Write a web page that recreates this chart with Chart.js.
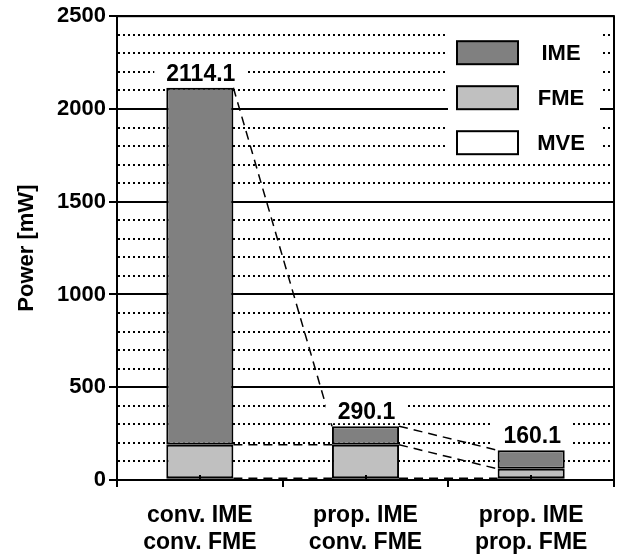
<!DOCTYPE html>
<html>
<head>
<meta charset="utf-8">
<script src="https://cdn.jsdelivr.net/npm/chart.js@4/dist/chart.umd.min.js"></script>
<style>
  html, body { margin: 0; padding: 0; background: #fff; }
</style>
</head>
<body>
<canvas id="myChart" width="622" height="559"></canvas>
<script>
const categories = [['conv. IME', 'conv. FME'], ['prop. IME', 'conv. FME'], ['prop. IME', 'prop. FME']];
const mveValues = [10.1, 10.1, 10.1];
const fmeValues = [180, 180, 50];
const imeValues = [1924, 100, 100];
const yMax = 2500;
const yStep = 100;
const yMajorStep = 500;

const FONT = "'Liberation Sans', Arial, sans-serif";

// dashed lines joining the top of each segment from one bar to the next
const seriesLines = {
  id: 'seriesLines',
  afterDatasetsDraw(chart) {
    const ctx = chart.ctx;
    ctx.save();
    ctx.strokeStyle = '#000';
    ctx.lineWidth = 1.5;
    ctx.setLineDash([9, 6]);
    chart.data.datasets.forEach((ds, i) => {
      const bars = chart.getDatasetMeta(i).data;
      for (let j = 0; j < bars.length - 1; j++) {
        const a = bars[j], b = bars[j + 1];
        ctx.beginPath();
        ctx.moveTo(a.x + a.width / 2, a.y);
        ctx.lineTo(b.x - b.width / 2, b.y);
        ctx.stroke();
      }
    });
    ctx.restore();
  }
};

// totals above the bars, on a white patch
const totalLabels = {
  id: 'totalLabels',
  afterDatasetsDraw(chart) {
    const ctx = chart.ctx;
    const topBars = chart.getDatasetMeta(chart.data.datasets.length - 1).data;
    ctx.save();
    ctx.font = 'bold 23px ' + FONT;
    ctx.textAlign = 'center';
    ctx.textBaseline = 'alphabetic';
    topBars.forEach((bar, j) => {
      const total = mveValues[j] + fmeValues[j] + imeValues[j];
      const text = total.toFixed(1);
      const w = ctx.measureText(text).width;
      const base = bar.y - 7;
      ctx.fillStyle = '#fff';
      ctx.fillRect(bar.x - w / 2 - 11, base - 22, w + 22, 26);
      ctx.fillStyle = '#000';
      ctx.fillText(text, bar.x + 1, base);
    });
    ctx.restore();
  }
};

// legend box inside the plot, top right
const boxLegend = {
  id: 'boxLegend',
  afterDatasetsDraw(chart) {
    const { ctx, chartArea } = chart;
    const right = chartArea.right, top = chartArea.top;
    ctx.save();
    ctx.fillStyle = '#fff';
    ctx.fillRect(right - 166, top + 6, 152, 137);
    ctx.font = 'bold 22px ' + FONT;
    ctx.textAlign = 'center';
    ctx.textBaseline = 'middle';
    const items = chart.data.datasets.slice().reverse();
    items.forEach((ds, k) => {
      const y = top + 25 + k * 45;
      ctx.fillStyle = ds.backgroundColor;
      ctx.fillRect(right - 157, y, 61, 23);
      ctx.strokeStyle = '#000';
      ctx.lineWidth = 2;
      ctx.strokeRect(right - 157, y, 61, 23);
      ctx.fillStyle = '#000';
      ctx.fillText(ds.label, right - 53, y + 13);
    });
    ctx.restore();
  }
};

// plot frame and the small marks at the category centres
const frame = {
  id: 'frame',
  afterDraw(chart) {
    const { ctx, chartArea } = chart;
    const x = chart.scales.x;
    ctx.save();
    ctx.strokeStyle = '#000';
    ctx.lineWidth = 2;
    ctx.strokeRect(chartArea.left, chartArea.top, chartArea.right - chartArea.left, chartArea.bottom - chartArea.top);
    categories.forEach((c, i) => {
      const px = Math.round(x.getPixelForValue(i));
      ctx.beginPath();
      ctx.moveTo(px, chartArea.bottom);
      ctx.lineTo(px, chartArea.bottom - 5);
      ctx.stroke();
    });
    ctx.restore();
  }
};

new Chart(document.getElementById('myChart').getContext('2d'), {
  type: 'bar',
  data: {
    labels: categories,
    datasets: [
      { label: 'MVE', data: mveValues, backgroundColor: '#ffffff' },
      { label: 'FME', data: fmeValues, backgroundColor: '#c0c0c0' },
      { label: 'IME', data: imeValues, backgroundColor: '#808080' }
    ]
  },
  options: {
    responsive: false,
    animation: false,
    devicePixelRatio: 1,
    layout: { padding: { top: 15, right: 8, left: 0, bottom: 0 } },
    datasets: {
      bar: { borderColor: '#000', borderWidth: 2, borderSkipped: false, categoryPercentage: 1, barPercentage: 0.405 }
    },
    plugins: { legend: { display: false }, tooltip: { enabled: false } },
    scales: {
      x: {
        stacked: true,
        grid: { offset: true, drawOnChartArea: false, drawTicks: true, tickLength: 7, color: '#000', lineWidth: 2 },
        border: { display: true, color: '#000', width: 2 },
        ticks: {
          color: '#000', padding: 15, maxRotation: 0, autoSkip: false,
          font: { family: FONT, size: 23, weight: 'bold', lineHeight: 1.17 }
        },
        afterFit(scale) { scale.height = 79; }
      },
      y: {
        stacked: true,
        min: 0,
        max: yMax,
        ticks: {
          stepSize: yStep, autoSkip: false, color: '#000', padding: 3,
          font: { family: FONT, size: 22, weight: 'bold' },
          callback: v => (v % yMajorStep === 0 ? v : '')
        },
        grid: {
          color: '#000', lineWidth: 2, tickLength: 8,
          tickColor: ctx => (ctx.tick && ctx.tick.value % yMajorStep === 0 ? '#000' : 'rgba(0,0,0,0)')
        },
        border: {
          display: true, color: '#000', width: 2,
          dash: ctx => (ctx.tick && ctx.tick.value % yMajorStep !== 0 ? [2, 3] : [])
        },
        title: {
          display: true, text: 'Power [mW]', color: '#000',
          font: { family: FONT, size: 22, weight: 'bold' },
          padding: { top: 14, bottom: 0 }
        },
        afterFit(scale) { scale.width = 117; }
      }
    }
  },
  plugins: [seriesLines, totalLabels, boxLegend, frame]
});
</script>
</body>
</html>
